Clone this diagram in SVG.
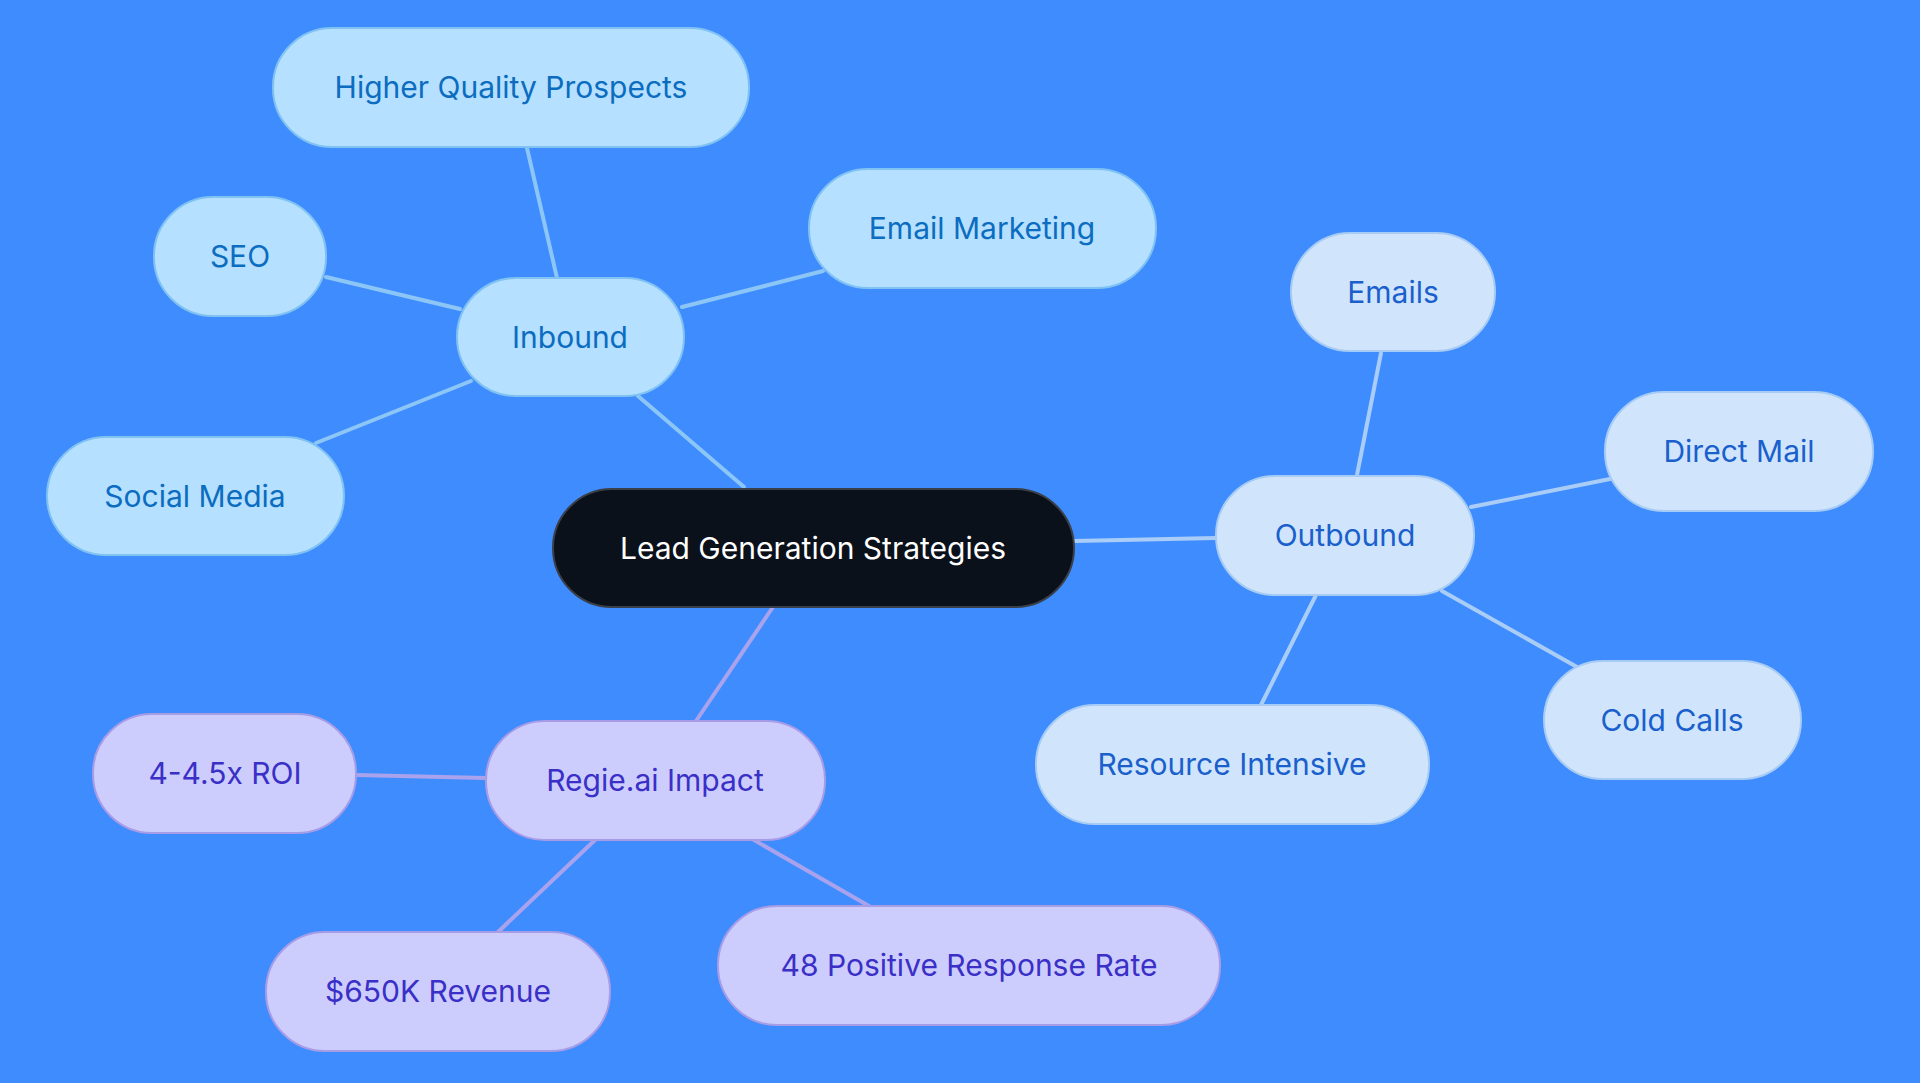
<svg xmlns="http://www.w3.org/2000/svg" width="1920" height="1083" viewBox="0 0 1920 1083">
<style>
text{font-family:Inter,"Noto Sans",sans-serif;font-size:30px;text-anchor:middle;dominant-baseline:central}
.in rect{fill:#b5e0ff;stroke:#80c2f2;stroke-width:2}
.in text{fill:#0b6cc0}
.out rect{fill:#d0e5fc;stroke:#a6cbf4;stroke-width:2}
.out text{fill:#1a5fcc}
.rg rect{fill:#cccdfd;stroke:#a79ce6;stroke-width:2}
.rg text{fill:#3a2fc6}
.e line{stroke-width:4;stroke-linecap:round}
</style>
<rect width="1920" height="1083" fill="#3f8cff"/>
<g id="connectors" class="e">
<g stroke="#8cc6f6"><line x1="744" y1="487" x2="638" y2="396"/><line x1="557" y1="278" x2="527" y2="148"/><line x1="682" y1="307" x2="823" y2="271"/><line x1="460" y1="309" x2="326" y2="277"/><line x1="471" y1="381" x2="316" y2="443"/></g>
<g stroke="#a9cdf6"><line x1="1074" y1="541" x2="1216" y2="538"/><line x1="1357" y1="475" x2="1381" y2="353"/><line x1="1471" y1="507" x2="1610" y2="479"/><line x1="1442" y1="591" x2="1577" y2="667"/><line x1="1316" y1="595" x2="1261" y2="705"/></g>
<g stroke="#a9a2ec"><line x1="773" y1="607" x2="696" y2="721"/><line x1="486" y1="778" x2="356" y2="775"/><line x1="595" y1="840" x2="498" y2="932"/><line x1="754" y1="840" x2="869" y2="906"/></g>
</g>
<g id="center"><rect x="553" y="489" width="521" height="118" rx="59" fill="#0b111a" stroke="#3a3f48" stroke-width="2"/><text x="813" y="548" fill="#fff">Lead Generation Strategies</text></g>
<g id="inbound" class="in"><rect x="457" y="278" width="227" height="118" rx="59"/><text x="570" y="337">Inbound</text></g>
<g id="hqp" class="in"><rect x="273" y="28" width="476" height="119" rx="59"/><text x="511" y="87">Higher Quality Prospects</text></g>
<g id="email-marketing" class="in"><rect x="809" y="169" width="347" height="119" rx="59"/><text x="982" y="228">Email Marketing</text></g>
<g id="seo" class="in"><rect x="154" y="197" width="172" height="119" rx="59"/><text x="240" y="256">SEO</text></g>
<g id="social" class="in"><rect x="47" y="437" width="297" height="118" rx="59"/><text x="195" y="496">Social Media</text></g>
<g id="outbound" class="out"><rect x="1216" y="476" width="258" height="119" rx="59"/><text x="1345" y="535">Outbound</text></g>
<g id="emails" class="out"><rect x="1291" y="233" width="204" height="118" rx="59"/><text x="1393" y="292">Emails</text></g>
<g id="direct" class="out"><rect x="1605" y="392" width="268" height="119" rx="59"/><text x="1739" y="451">Direct Mail</text></g>
<g id="cold" class="out"><rect x="1544" y="661" width="257" height="118" rx="59"/><text x="1672" y="720">Cold Calls</text></g>
<g id="resource" class="out"><rect x="1036" y="705" width="393" height="119" rx="59"/><text x="1232" y="764">Resource Intensive</text></g>
<g id="regie" class="rg"><rect x="486" y="721" width="339" height="119" rx="59"/><text x="655" y="780">Regie.ai Impact</text></g>
<g id="roi" class="rg"><rect x="93" y="714" width="263" height="119" rx="59"/><text x="225" y="773">4-4.5x ROI</text></g>
<g id="revenue" class="rg"><rect x="266" y="932" width="344" height="119" rx="59"/><text x="438" y="991">$650K Revenue</text></g>
<g id="response" class="rg"><rect x="718" y="906" width="502" height="119" rx="59"/><text x="969" y="965">48 Positive Response Rate</text></g>
</svg>
